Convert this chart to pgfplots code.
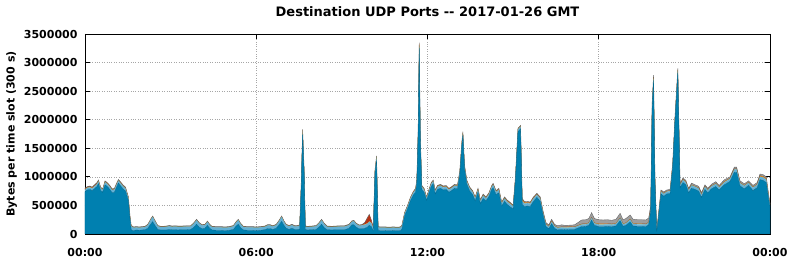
\documentclass[border=0pt]{standalone}
\usepackage{fontspec}
\setmainfont{DejaVu Sans}
\usepackage{pgfplots}
\usepackage{pgfplotstable}
\pgfplotsset{compat=1.18}
\definecolor{cblue}{RGB}{0,128,176}
\definecolor{clblue}{RGB}{100,176,212}
\definecolor{cgreen}{RGB}{128,160,96}
\definecolor{corange}{RGB}{222,128,24}
\definecolor{cred}{RGB}{180,50,20}
\definecolor{cgray}{RGB}{158,158,158}
\pgfplotstableread{
t b lb gn or rd gy
0.00 740 35 5 5 5 10
0.08 770 35 5 5 5 10
0.17 780 35 5 5 5 10
0.25 760 35 5 5 5 10
0.33 790 40 5 5 5 15
0.42 830 40 5 5 5 15
0.47 880 40 5 5 0 15
0.55 760 40 5 5 0 10
0.62 730 40 5 5 0 10
0.70 860 45 5 5 0 15
0.78 830 45 5 5 0 15
0.87 780 45 5 5 0 15
0.95 720 45 5 5 0 15
1.03 730 45 5 5 0 15
1.10 810 45 5 5 0 15
1.17 890 45 5 0 0 15
1.25 840 45 5 5 0 15
1.33 790 45 5 5 0 15
1.42 750 45 5 5 0 15
1.52 590 40 5 5 0 10
1.58 240 40 5 5 0 10
1.62 70 65 5 0 0 10
1.70 60 50 5 0 0 10
1.80 70 45 5 0 0 10
1.90 65 45 5 0 0 10
2.00 70 45 5 0 0 10
2.10 75 45 5 0 0 10
2.20 100 55 5 0 0 10
2.30 170 75 5 0 0 10
2.37 215 85 5 0 0 10
2.45 150 75 5 0 0 10
2.55 80 55 5 0 0 10
2.65 70 50 5 0 0 10
2.75 70 50 5 0 0 10
2.85 70 55 5 0 0 10
2.95 80 55 5 0 0 10
3.05 75 50 5 0 0 10
3.15 75 55 5 0 0 10
3.25 70 55 5 0 0 10
3.40 75 50 5 0 0 10
3.55 75 55 5 0 0 10
3.70 80 50 5 0 0 10
3.80 110 65 5 0 0 10
3.91 170 72 5 0 0 10
4.00 120 65 5 0 0 10
4.10 95 55 5 0 0 10
4.20 100 55 5 0 0 10
4.29 150 62 5 0 0 10
4.37 100 55 5 0 0 10
4.45 70 50 5 0 0 10
4.60 65 50 5 0 0 10
4.75 65 50 5 0 0 10
4.90 60 50 5 0 0 10
5.05 65 50 5 0 0 10
5.20 80 55 5 0 0 10
5.30 140 65 5 0 0 10
5.37 170 72 5 0 0 10
5.45 110 65 5 0 0 10
5.55 70 50 5 0 0 10
5.70 65 50 5 0 0 10
5.85 65 50 5 0 0 10
6.00 60 50 5 0 0 10
6.15 65 50 5 0 0 10
6.30 75 50 5 0 0 10
6.40 95 55 5 0 0 10
6.48 95 55 5 0 0 10
6.58 80 50 5 0 0 10
6.70 100 55 5 0 0 10
6.80 160 65 5 0 0 10
6.89 220 80 5 0 0 10
6.97 150 65 5 0 0 10
7.05 100 55 5 0 0 10
7.15 80 55 5 0 0 10
7.25 100 55 5 0 0 10
7.35 80 50 5 0 0 10
7.45 80 55 5 0 0 10
7.52 85 60 5 0 0 10
7.57 730 55 5 0 0 10
7.625 1740 70 5 5 0 10
7.68 1040 45 5 0 0 10
7.72 75 50 5 0 0 10
7.80 70 50 5 0 0 10
7.95 75 50 5 0 0 10
8.10 80 55 5 0 0 10
8.20 120 65 5 0 0 10
8.29 170 72 5 0 0 10
8.38 110 65 5 0 0 10
8.48 75 50 5 0 0 10
8.65 70 50 5 0 0 10
8.80 75 50 5 0 0 10
8.95 75 55 5 0 0 10
9.10 75 55 5 0 0 10
9.25 100 55 5 0 0 10
9.35 160 55 5 0 0 10
9.42 160 65 5 0 0 10
9.50 120 55 5 0 0 10
9.60 90 55 5 0 0 10
9.70 90 60 5 0 0 10
9.80 100 60 5 5 20 10
9.90 120 60 5 5 90 10
9.96 150 65 5 5 110 10
10.03 130 60 5 5 40 10
10.10 55 50 5 0 0 10
10.16 1060 45 5 0 0 10
10.215 1290 60 5 0 0 10
10.27 65 50 5 0 0 10
10.35 60 50 5 0 0 10
10.50 60 50 5 0 0 10
10.65 55 50 5 0 0 10
10.80 60 50 5 0 0 10
10.95 55 50 5 0 0 10
11.05 60 50 5 0 0 10
11.10 80 55 5 0 0 10
11.20 320 40 5 5 0 10
11.30 440 40 5 5 0 10
11.40 580 40 5 5 0 10
11.50 680 40 5 5 0 10
11.58 730 45 5 5 0 15
11.625 880 45 5 5 0 15
11.67 1700 45 5 5 0 15
11.71 3250 60 5 15 0 20
11.75 1640 40 5 5 0 10
11.80 780 45 5 5 0 15
11.88 730 45 5 5 0 15
11.97 590 40 5 5 0 10
12.05 710 45 5 5 0 15
12.13 830 45 5 5 0 15
12.20 880 45 5 0 0 15
12.27 700 45 5 5 0 15
12.35 780 45 5 5 0 15
12.45 800 45 5 5 0 15
12.55 770 45 5 5 0 15
12.65 780 45 5 5 0 15
12.75 730 45 5 5 0 15
12.85 760 45 5 5 0 15
12.95 800 45 5 5 0 15
13.05 790 45 5 5 0 15
13.13 1030 45 5 5 0 15
13.20 1530 45 5 5 0 15
13.24 1720 45 5 5 0 15
13.30 1130 45 5 5 0 15
13.38 870 45 5 5 0 15
13.48 750 45 5 5 0 15
13.58 690 45 5 5 0 15
13.67 580 45 5 5 0 15
13.77 730 45 5 5 0 15
13.85 530 45 5 5 0 15
13.95 620 50 5 5 0 20
14.05 580 45 5 5 0 15
14.15 650 45 5 5 0 15
14.25 780 45 5 5 0 15
14.30 810 50 5 5 0 17
14.40 690 45 5 5 0 15
14.50 720 50 5 5 0 20
14.60 490 45 5 5 0 15
14.70 570 50 5 5 0 20
14.78 520 50 5 10 0 15
14.88 480 50 5 10 0 15
15.00 440 45 5 5 0 12
15.08 940 40 5 5 0 10
15.17 1790 40 5 5 0 10
15.26 1840 40 5 5 0 10
15.32 520 50 5 30 0 15
15.40 480 50 5 15 0 15
15.50 490 50 5 10 0 15
15.60 480 50 5 10 0 15
15.70 560 50 5 10 0 15
15.83 640 45 5 5 0 17
15.95 570 50 5 5 0 20
16.05 330 40 5 5 0 20
16.15 130 35 5 5 0 25
16.25 90 35 5 5 0 25
16.35 180 35 5 5 0 32
16.45 100 35 5 5 0 25
16.55 70 35 5 5 0 30
16.70 80 35 5 5 0 35
16.85 75 35 5 10 0 25
17.00 80 35 5 10 0 25
17.15 80 35 5 5 0 35
17.30 110 35 5 5 0 55
17.40 130 35 5 5 0 70
17.55 135 35 5 5 0 70
17.65 150 35 5 5 0 75
17.75 240 40 5 5 0 83
17.85 150 35 5 5 0 75
18.00 130 35 5 10 0 70
18.15 130 35 5 10 0 65
18.30 135 35 5 5 0 70
18.45 130 35 5 5 0 65
18.60 140 35 5 5 0 70
18.75 230 40 5 5 0 82
18.85 135 35 5 5 0 70
18.95 150 35 5 5 0 75
19.10 210 40 5 5 0 72
19.20 140 35 5 5 0 75
19.35 135 35 5 5 0 70
19.50 135 35 5 5 0 70
19.65 130 35 5 5 0 70
19.75 160 35 5 5 0 75
19.82 400 40 5 5 0 50
19.87 2200 40 5 5 0 40
19.92 2690 40 5 5 0 40
19.97 920 40 5 5 0 30
20.03 40 10 0 0 0 10
20.08 240 30 5 5 0 20
20.18 700 40 5 5 0 20
20.28 660 40 5 5 0 25
20.38 700 40 5 5 0 20
20.50 710 40 5 5 0 20
20.59 1170 40 5 5 0 20
20.67 1980 40 5 5 0 20
20.77 2820 45 5 5 0 25
20.85 810 40 5 5 0 20
20.95 900 45 5 5 0 25
21.05 860 45 5 5 0 25
21.15 720 45 5 5 0 25
21.25 800 50 5 5 0 30
21.38 780 45 5 5 0 25
21.50 750 45 5 5 0 30
21.60 640 45 5 5 0 28
21.72 780 45 5 5 0 25
21.82 720 45 5 5 0 25
21.95 790 45 5 5 0 25
22.10 830 45 5 5 0 30
22.22 770 45 5 5 0 25
22.40 860 45 5 10 0 30
22.60 920 45 5 5 0 25
22.75 1080 50 5 5 0 30
22.83 1080 50 5 5 0 30
22.95 840 50 5 5 0 30
23.10 790 50 5 5 0 30
23.25 850 45 5 5 0 25
23.40 760 50 5 5 0 30
23.55 810 50 5 5 0 30
23.65 950 50 5 15 0 30
23.75 940 50 5 15 0 30
23.87 900 50 5 15 0 30
23.95 620 45 5 5 0 25
24.00 480 35 5 5 0 15
}\udp
\begin{document}
\begin{tikzpicture}
\useasboundingbox (-85pt,-25pt) rectangle (707pt,234pt);
\begin{axis}[
  at={(0,0)}, anchor=south west,
  scale only axis, width=685pt, height=200pt,
  xmin=0, xmax=24, ymin=0, ymax=3500,
  xtick={0,6,12,18,24},
  xticklabels={00:00,06:00,12:00,18:00,00:00},
  ytick={0,500,1000,1500,2000,2500,3000,3500},
  yticklabels={0,500000,1000000,1500000,2000000,2500000,3000000,3500000},
  tick align=inside, major tick length=5pt,
  tick style={black, line width=0.8pt},
  grid=major,
  grid style={dotted, gray!70, line width=0.6pt},
  axis line style={black, line width=0.9pt},
  stack plots=y,
  every axis plot/.append style={no markers, draw=none},
  font=\bfseries\fontsize{11}{13}\selectfont,
  tick label style={font=\bfseries\fontsize{11}{13}\selectfont},
  xticklabel style={yshift=-11pt},
  yticklabel style={xshift=-4pt},
  title={Destination UDP Ports -{}- 2017-01-26 GMT},
  title style={font=\bfseries\fontsize{13}{15}\selectfont, yshift=8pt},
  ylabel={Bytes per time slot (300 s)},
  ylabel style={at={(axis description cs:-0.107,0.5)}, anchor=center, font=\bfseries\fontsize{11}{13}\selectfont},
  axis on top=false,
]
\addplot[fill=cblue, draw=cblue!80!black, line width=0.3pt] table[x=t, y=b] {\udp} \closedcycle;
\addplot[fill=clblue] table[x=t, y=lb] {\udp} \closedcycle;
\addplot[fill=cgreen] table[x=t, y=gn] {\udp} \closedcycle;
\addplot[fill=corange] table[x=t, y=or] {\udp} \closedcycle;
\addplot[fill=cred] table[x=t, y=rd] {\udp} \closedcycle;
\addplot[fill=cgray, draw=gray!80!black, line width=0.4pt] table[x=t, y=gy] {\udp} \closedcycle;
\end{axis}
\end{tikzpicture}
\end{document}
